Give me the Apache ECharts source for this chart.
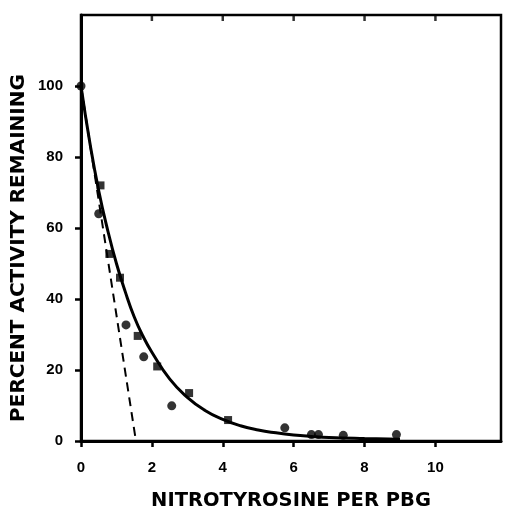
<!DOCTYPE html>
<html><head><meta charset="utf-8">
<script src="https://cdn.jsdelivr.net/npm/echarts@6/dist/echarts.min.js"></script>
<style>html,body{margin:0;padding:0;background:#fff}#c{width:505px;height:508px}</style>
</head><body><div id="c"></div>
<script>
const xTickLabels = ['0', '2', '4', '6', '8', '10'];
const yTickLabels = ['0', '20', '40', '60', '80', '100'];
const topTickValues = [2, 4, 6, 8, 10];
const circlePoints = [[0,100],[0.5,64],[1.27,32.7],[1.77,23.7],[2.56,9.9],[5.75,3.7],[6.5,1.8],[6.7,1.8],[7.4,1.6],[8.9,1.8]];
const squarePoints = [[0.55,72],[0.8,52.7],[1.1,46],[1.6,29.6],[2.15,21],[3.05,13.5],[4.15,5.9]];
const fitCurve = [[0,100],[0.25,84],[0.5,70.5],[0.75,59.5],[1.0,50],[1.25,42],[1.5,35],[1.75,29.5],[2.0,25],[2.5,17.5],[3.0,12.3],[3.5,8.6],[4.0,6.1],[4.5,4.3],[5.0,3.1],[5.5,2.3],[6.0,1.7],[6.5,1.3],[7.0,1.0],[8.0,0.7],[9.0,0.5]];
const initialSlope = [[0,100],[1.55,0]];
const xName = 'NITROTYROSINE PER PBG';
const yName = 'PERCENT ACTIVITY REMAINING';
const yMax = 120;

const chart = echarts.init(document.getElementById('c'));
const lbl = {color:'#000', fontFamily:'Liberation Sans', fontWeight:'bold', fontSize:15};
const mkTick = inside => ({show:true, inside:inside, length:6, lineStyle:{color:'#000', width:2.5}});
const fmtX = v => xTickLabels.indexOf(String(v)) >= 0 ? String(v) : '';
const fmtY = v => yTickLabels.indexOf(String(v)) >= 0 ? String(v) : '';
chart.setOption({
  animation:false,
  backgroundColor:'#fff',
  grid:{left:81, top:15, right:4, bottom:67, containLabel:false, outerBoundsMode:'none',
        show:true, borderColor:'#000', borderWidth:2.5},
  xAxis:[{
    type:'value', min:0, max:11.85, interval:2,
    axisLine:{show:true, lineStyle:{color:'#000', width:3}}, splitLine:{show:false},
    axisTick:mkTick(false),
    axisLabel:Object.assign({margin:19, formatter: fmtX, showMaxLabel:false}, lbl),
    name:xName, nameLocation:'middle', nameGap:50,
    nameTextStyle:{color:'#000', fontFamily:'DejaVu Sans', fontWeight:'bold', fontSize:19.5}
  }],
  yAxis:[{
    type:'value', min:0, max:yMax, interval:20,
    axisLine:{show:true, lineStyle:{color:'#000', width:3}}, splitLine:{show:false},
    axisTick:mkTick(false),
    axisLabel:Object.assign({margin:18, formatter: fmtY, showMaxLabel:false}, lbl)
  }],
  graphic:[{
    type:'text', x:19, y:248, rotation:Math.PI/2,
    style:{text:yName, fill:'#000', font:'bold 20px "DejaVu Sans"', align:'center', verticalAlign:'middle'}
  }],
  series:[
    {type:'line', data:fitCurve, smooth:true, symbol:'none', lineStyle:{color:'#000', width:3}, z:3},
    {type:'line', data:initialSlope, symbol:'none', lineStyle:{color:'#000', width:2, type:[9,6]}, z:3},
    {type:'scatter', data:circlePoints, symbol:'circle', symbolSize:9, itemStyle:{color:'#000'}, z:4},
    {type:'scatter', data:squarePoints, symbol:'rect', symbolSize:8, itemStyle:{color:'#000'}, z:4},
    {type:'scatter', data:topTickValues.map(v => [v, yMax]), symbol:'rect', symbolSize:[2.5,6],
     symbolOffset:[0,3], itemStyle:{color:'#000'}, silent:true, z:5}
  ]
});
</script></body></html>
